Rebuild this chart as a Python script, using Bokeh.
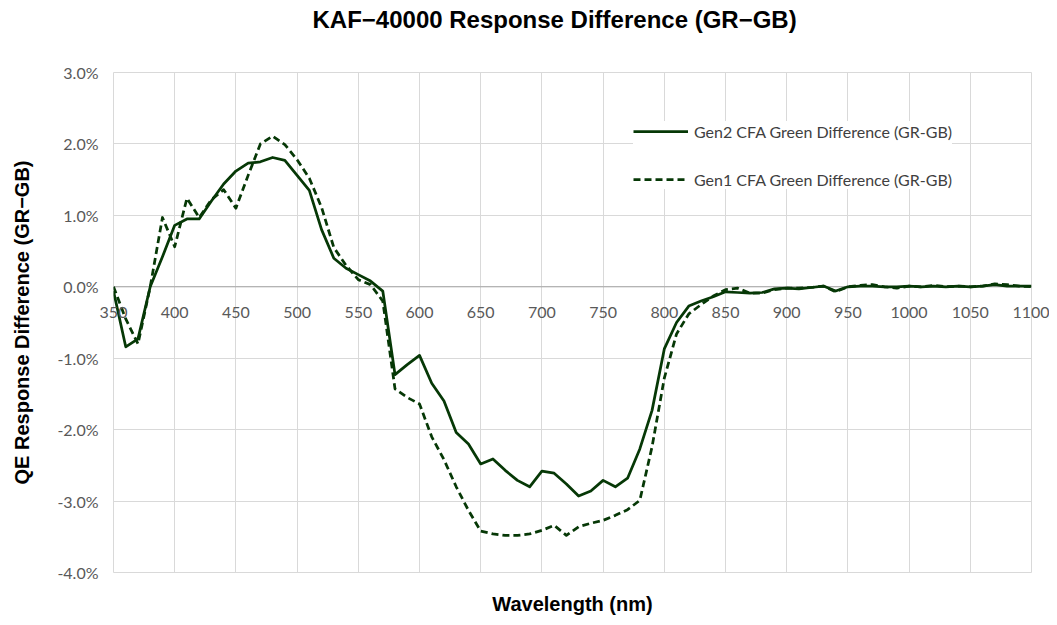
from bokeh.plotting import figure
from bokeh.models import (Range1d, FixedTicker, PrintfTickFormatter, Title,
                          Legend, LegendItem, Span)
from bokeh.embed import file_html
from bokeh.resources import INLINE

# ---------------- data ----------------
WAVELENGTH = list(range(350, 1101, 10))

GEN2_DIFF = [
    -0.06, -0.84, -0.73, 0.00, 0.42, 0.86, 0.95, 0.95, 1.20, 1.44,   # 350-440
    1.62, 1.73, 1.75, 1.81, 1.77, 1.56, 1.35, 0.80, 0.40, 0.26,      # 450-540
    0.17, 0.08, -0.06, -1.23, -1.09, -0.96, -1.35, -1.60, -2.04, -2.20,  # 550-640
    -2.48, -2.41, -2.57, -2.71, -2.80, -2.58, -2.61, -2.76, -2.93, -2.86,  # 650-740
    -2.71, -2.80, -2.68, -2.27, -1.73, -0.87, -0.50, -0.27, -0.20, -0.14,  # 750-840
    -0.07, -0.08, -0.09, -0.08, -0.03, -0.02, -0.03, -0.01, 0.01, -0.06,   # 850-940
    0.00, 0.01, 0.01, 0.00, 0.00, 0.01, 0.00, 0.01, 0.00, 0.01,            # 950-1040
    0.00, 0.01, 0.03, 0.01, 0.01, 0.01,                                    # 1050-1100
]

GEN1_DIFF = [
    0.00, -0.45, -0.80, 0.00, 0.97, 0.56, 1.24, 0.97, 1.22, 1.36,    # 350-440
    1.10, 1.56, 2.00, 2.11, 1.99, 1.78, 1.52, 1.11, 0.55, 0.30,      # 450-540
    0.10, 0.03, -0.20, -1.43, -1.55, -1.64, -2.10, -2.42, -2.80, -3.13,  # 550-640
    -3.42, -3.46, -3.48, -3.48, -3.46, -3.41, -3.34, -3.48, -3.36, -3.31,  # 650-740
    -3.27, -3.20, -3.12, -2.99, -2.24, -1.28, -0.66, -0.38, -0.25, -0.13,  # 750-840
    -0.04, -0.02, -0.09, -0.09, -0.04, -0.02, -0.02, -0.01, 0.01, -0.07,   # 850-940
    0.00, 0.02, 0.03, 0.00, -0.02, 0.01, 0.00, 0.02, 0.00, 0.01,           # 950-1040
    0.00, 0.01, 0.04, 0.03, 0.01, 0.00,                                    # 1050-1100
]

X_TICKS = list(range(350, 1101, 50))
Y_TICKS = [-4, -3, -2, -1, 0, 1, 2, 3]

TITLE = "KAF\u221240000 Response Difference (GR\u2212GB)"
X_LABEL = "Wavelength (nm)"
Y_LABEL = "QE Response Difference (GR\u2212GB)"
SERIES_NAMES = ["Gen2 CFA Green Difference (GR-GB)", "Gen1 CFA Green Difference (GR-GB)"]

GREEN = "#063806"
GRID = "#d9d9d9"
TICK_COLOR = "#595959"
TICK_FONT = "Lato"
BOLD_FONT = "Liberation Sans"

# ---------------- figure ----------------
p = figure(width=1049, height=617, output_backend="svg", toolbar_location=None,
           x_range=Range1d(350, 1100), y_range=Range1d(-4, 3),
           min_border_left=113, min_border_right=18, min_border_top=72, min_border_bottom=45)
p.background_fill_color = "white"
p.border_fill_color = "white"
p.outline_line_color = GRID

# title
p.title.text = TITLE
p.title.text_font = BOLD_FONT
p.title.text_font_style = "bold"
p.title.text_font_size = "24px"
p.title.text_color = "#000000"
p.title.align = "left"
p.title.offset = 199
p.title.vertical_align = "top"
p.title.standoff = 0
spacer = Title(text=" ", text_font_size="10px", standoff=25)
p.add_layout(spacer, "above")

# x axis: tick labels pulled up to the zero line (where the axis crosses), title at the bottom
xax = p.xaxis[0]
xax.ticker = FixedTicker(ticks=X_TICKS)
xax.major_label_text_font = TICK_FONT
xax.major_label_text_font_size = "16px"
xax.major_label_text_color = TICK_COLOR
xax.major_label_standoff = -266
xax.axis_label = X_LABEL
xax.axis_label_text_font = BOLD_FONT
xax.axis_label_text_font_style = "bold"
xax.axis_label_text_font_size = "20px"
xax.axis_label_text_color = "#000000"
xax.axis_label_standoff = 272
xax.axis_line_color = None
xax.major_tick_line_color = None
xax.minor_tick_line_color = None
xax.major_tick_out = 0
xax.minor_tick_out = 0
p.xgrid.grid_line_color = GRID

# y axis
yax = p.yaxis[0]
yax.ticker = FixedTicker(ticks=Y_TICKS)
yax.formatter = PrintfTickFormatter(format="%.1f%%")
yax.major_label_text_font = TICK_FONT
yax.major_label_text_font_size = "16px"
yax.major_label_text_color = TICK_COLOR
yax.major_label_standoff = 15
yax.major_tick_line_color = None
yax.minor_tick_line_color = None
yax.major_tick_out = 0
yax.minor_tick_out = 0
yax.axis_line_color = None
yax.axis_label = Y_LABEL
yax.axis_label_text_font = BOLD_FONT
yax.axis_label_text_font_style = "bold"
yax.axis_label_text_font_size = "20px"
yax.axis_label_text_color = "#000000"
yax.axis_label_standoff = 21
p.ygrid.grid_line_color = GRID

# zero line (where the category axis crosses)
zero = Span(location=0, dimension="width", line_color="#a6a6a6", line_width=1, level="underlay")
p.add_layout(zero)

# series
r2 = p.line(WAVELENGTH, GEN2_DIFF, line_color=GREEN, line_width=2.75, line_join="round")
r1 = p.line(WAVELENGTH, GEN1_DIFF, line_color=GREEN, line_width=2.75, line_join="round",
            line_dash="7 4")

legend = Legend(items=[LegendItem(label=SERIES_NAMES[0], renderers=[r2]),
                       LegendItem(label=SERIES_NAMES[1], renderers=[r1])],
                location=(520, 383), border_line_color=None,
                background_fill_color="white", background_fill_alpha=1.0,
                glyph_width=55, glyph_height=20, spacing=28, padding=15,
                label_standoff=6, label_text_font=TICK_FONT, label_text_font_size="16px",
                label_text_color="#404040")
p.add_layout(legend)

open("out.html", "w").write(file_html(p, INLINE))
